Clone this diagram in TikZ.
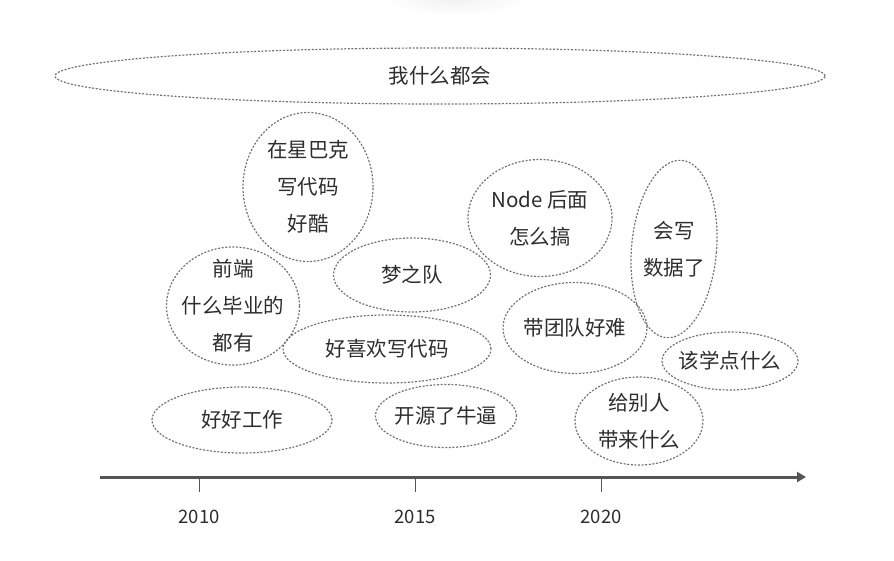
\documentclass[tikz,border=0pt]{standalone}
\usepackage{fontspec}
\setmainfont{Noto Sans CJK SC}
\usetikzlibrary{arrows.meta,shapes.geometric}
\definecolor{ink}{RGB}{45,45,45}
\definecolor{rim}{RGB}{115,115,115}
\definecolor{axisgray}{RGB}{85,85,85}
\tikzset{
  >={Triangle[length=9pt,width=10pt]},
  bubble/.style={ellipse,draw=rim,line width=1.2pt,dash pattern=on 2pt off 1.6pt,
    inner sep=-14pt,align=center,text=ink,font=\fontsize{20.5}{37}\selectfont},
  caption/.style={align=center,text=ink,font=\fontsize{20.5}{37}\selectfont},
  timeline/.style={->,line width=3pt,draw=axisgray},
  yeartick/.style={draw=axisgray,line width=1pt},
  year/.style={font=\fontsize{18.5}{20}\selectfont,text=ink},
}
\begin{document}
\begin{tikzpicture}[x=1pt,y=-1pt]
  \useasboundingbox (0,0) rectangle (894,561);
  % faint shadow at the top
  \shade[inner color=gray!10,outer color=white] (455,0) ellipse (72 and 15);
  % bubbles
  \node[bubble,minimum width=770pt,minimum height=56pt] (all) at (440,76) {我什么都会};
  \foreach \n/\x/\y/\w/\h/\t in {
      starbucks/308/187/130/149/{在星巴克\\写代码\\好酷},
      frontend/233/306/133/118/{前端\\什么毕业的\\都有},
      dream/412/275/157/74/{梦之队},
      love/387/349/208/68/{好喜欢写代码},
      node/540/218/144/117/{Node 后面\\怎么搞},
      team/575/328/144/91/{带团队好难},
      learn/730/361/136/58/{该学点什么},
      give/639/421/128/88/{给别人\\带来什么},
      work/242/420/180/66/{好好工作},
      oss/446/416/141/63/{开源了牛逼}}{
    \node[bubble,minimum width=\w pt,minimum height=\h pt] (\n) at (\x,\y) {\t};
  }
  \node[bubble,minimum width=85pt,minimum height=178pt,rotate=-5] (data) at (674,249) {};
  \node[caption] (datatext) at (data.center) {会写\\数据了};
  % time axis
  \coordinate (start) at (100,477);
  \coordinate (stop) at (806,477);
  \draw[timeline] (start) -- (stop);
  \foreach \yr/\x in {2010/199,2015/415,2020/601}{
    \coordinate (t\yr) at (\x,477);
    \draw[yeartick] (t\yr) -- ++(0,15);
    \node[year] (y\yr) at (\x,517) {\yr};
  }
\end{tikzpicture}
\end{document}
